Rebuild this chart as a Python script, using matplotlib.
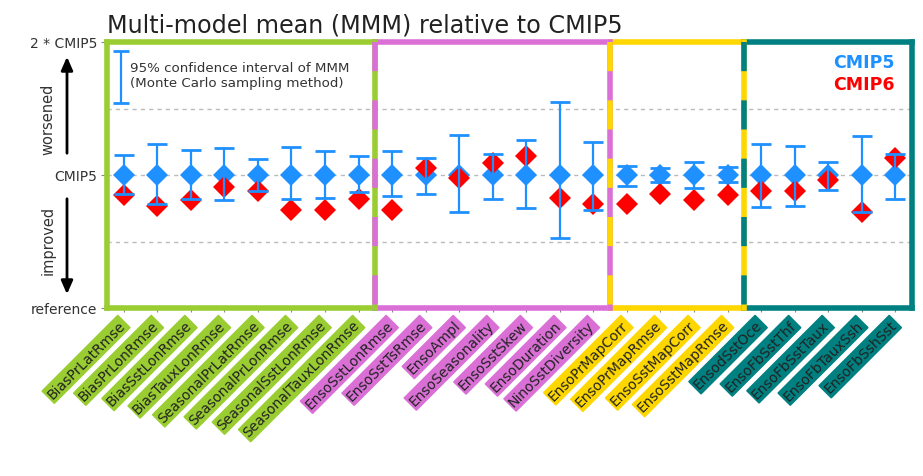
import matplotlib.pyplot as plt
import matplotlib.transforms as mtransforms

# metrics and their group colours
metrics = ['BiasPrLatRmse', 'BiasPrLonRmse', 'BiasSstLonRmse', 'BiasTauxLonRmse',
           'SeasonalPrLatRmse', 'SeasonalPrLonRmse', 'SeasonalSstLonRmse', 'SeasonalTauxLonRmse',
           'EnsoSstLonRmse', 'EnsoSstTsRmse', 'EnsoAmpl', 'EnsoSeasonality',
           'EnsoSstSkew', 'EnsoDuration', 'NinoSstDiversity',
           'EnsoPrMapCorr', 'EnsoPrMapRmse', 'EnsoSstMapCorr', 'EnsoSstMapRmse',
           'EnsodSstOce', 'EnsoFbSstThf', 'EnsoFbSstTaux', 'EnsoFbTauxSsh', 'EnsoFbSshSst']
group_colors = ['yellowgreen', 'orchid', 'gold', 'teal']
group_sizes = [8, 7, 4, 5]

# values relative to CMIP5 (CMIP5 = 1)
cmip5 = [1.0] * 24
cmip5_ci_high = [1.15, 1.235, 1.19, 1.20, 1.12, 1.21, 1.18, 1.14,
                 1.18, 1.13, 1.30, 1.16, 1.26, 1.55, 1.25,
                 1.07, 1.05, 1.10, 1.06,
                 1.23, 1.22, 1.10, 1.29, 1.16]
cmip5_ci_low = [0.86, 0.78, 0.82, 0.81, 0.88, 0.82, 0.83, 0.87,
                0.84, 0.86, 0.72, 0.82, 0.75, 0.53, 0.74,
                0.92, 0.95, 0.90, 0.95,
                0.76, 0.77, 0.89, 0.72, 0.82]
cmip6 = [0.85, 0.77, 0.81, 0.91, 0.88, 0.74, 0.74, 0.82,
         0.735, 1.05, 0.98, 1.09, 1.14, 0.83, 0.785,
         0.785, 0.86, 0.815, 0.85,
         0.88, 0.88, 0.96, 0.72, 1.13]

ytick_vals = [0, 1, 2]
ytick_labels = ['reference', 'CMIP5', '2 * CMIP5']

W, H = 923, 477
fig = plt.figure(figsize=(W / 100, H / 100), dpi=100)
ax = fig.add_axes([107 / W, 1 - 309 / H, 805 / W, 266 / H])

x = list(range(len(metrics)))
ax.set_xlim(-0.5, len(metrics) - 0.5)
ax.set_ylim(0, 2)
for s in ax.spines.values():
    s.set_visible(False)

# dashed reference lines
for yv in [0.5, 1.0, 1.5]:
    ax.axhline(yv, color='#bbbbbb', lw=1, ls=(0, (3, 3)), zorder=1)

# markers and confidence intervals
ax.plot(x, cmip5, 'D', color='dodgerblue', ms=11.5, mew=0, zorder=3)
ax.plot(x, cmip6, 'D', color='red', ms=11.5, mew=0, zorder=4)
err_lo = [c - l for c, l in zip(cmip5, cmip5_ci_low)]
err_hi = [h - c for c, h in zip(cmip5, cmip5_ci_high)]
ax.errorbar(x, cmip5, yerr=[err_lo, err_hi], fmt='none', ecolor='dodgerblue',
            elinewidth=1.6, capsize=7.5, capthick=2, zorder=5)

# group boxes
lw = 4
starts = [0]
for n in group_sizes[:-1]:
    starts.append(starts[-1] + n)
for i, (s, n) in enumerate(zip(starts, group_sizes)):
    c = group_colors[i]
    x0, x1 = s - 0.5, s + n - 0.5
    for yv in [0, 2]:
        ax.plot([x0, x1], [yv, yv], color=c, lw=lw, clip_on=False, zorder=6,
                solid_capstyle='projecting')
    if i == 0:
        ax.plot([x0, x0], [0, 2], color=c, lw=lw, clip_on=False, zorder=6)
    else:
        # shared border: left colour solid, this colour dashed on top
        ax.plot([x0, x0], [2, 0], color=group_colors[i - 1], lw=lw, clip_on=False, zorder=6)
        ax.plot([x0, x0], [2, 0], color=c, lw=lw, clip_on=False, zorder=7,
                ls=(0, (21 / lw, 21 / lw)), dash_capstyle='butt')
    if i == len(group_sizes) - 1:
        ax.plot([x1, x1], [0, 2], color=c, lw=lw, clip_on=False, zorder=6)

# ticks
ax.set_yticks(ytick_vals)
ax.set_yticklabels(ytick_labels, fontsize=10, color='#333333')
ax.tick_params(axis='y', length=4, color='#888888', pad=3)
ax.set_xticks(x)
ax.set_xticklabels(metrics, rotation=45, ha='right', rotation_mode='anchor', fontsize=10)
ax.tick_params(axis='x', length=3, color='#888888', pad=4)
label_colors = []
for c, n in zip(group_colors, group_sizes):
    label_colors += [c] * n
shift = mtransforms.ScaledTranslation(-6 / 100, 0, fig.dpi_scale_trans)
for lab, c in zip(ax.get_xticklabels(), label_colors):
    lab.set_bbox(dict(facecolor=c, edgecolor=c, boxstyle='square,pad=0.12'))
    lab.set_color('#222222')
    lab.set_transform(lab.get_transform() + shift)

# legend for the confidence interval
ax.errorbar([-0.08], [1.735], yerr=[[0.195], [0.195]], fmt='none', ecolor='dodgerblue',
            elinewidth=1.6, capsize=6, capthick=2, clip_on=False)
fig.text(130 / W, 1 - 68 / H, '95% confidence interval of MMM', fontsize=9.6,
         color='#333333', va='center')
fig.text(130 / W, 1 - 84 / H, '(Monte Carlo sampling method)', fontsize=9.6,
         color='#333333', va='center')

fig.text(895 / W, 1 - 63 / H, 'CMIP5', fontsize=12.5, fontweight='bold',
         color='dodgerblue', ha='right', va='center')
fig.text(895 / W, 1 - 85 / H, 'CMIP6', fontsize=12.5, fontweight='bold',
         color='red', ha='right', va='center')

fig.text(107 / W, 1 - 26 / H, 'Multi-model mean (MMM) relative to CMIP5', fontsize=17.2,
         color='#222222', va='center')

# worsened / improved arrows
arrow = dict(arrowstyle='-|>,head_length=0.8,head_width=0.35', color='black', lw=2)
ax.annotate('', xy=(67 / W, 1 - 55 / H), xytext=(67 / W, 1 - 157 / H),
            xycoords='figure fraction', arrowprops=arrow)
ax.annotate('', xy=(67 / W, 1 - 298 / H), xytext=(67 / W, 1 - 197 / H),
            xycoords='figure fraction', arrowprops=arrow)
fig.text(48 / W, 1 - 119 / H, 'worsened', rotation=90, fontsize=10.5, color='#333333',
         ha='center', va='center')
fig.text(48 / W, 1 - 240 / H, 'improved', rotation=90, fontsize=10.5, color='#333333',
         ha='center', va='center')

fig.savefig('out.png', dpi=100)
